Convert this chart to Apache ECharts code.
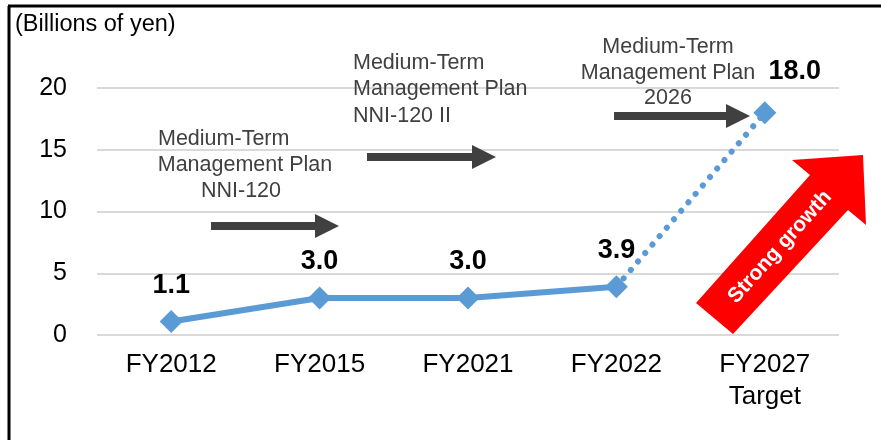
<!DOCTYPE html>
<html>
<head>
<meta charset="utf-8">
<script src="https://cdn.jsdelivr.net/npm/echarts@6/dist/echarts.min.js"></script>
<style>
  html, body { margin: 0; padding: 0; background: #fff; }
  #chart { width: 881px; height: 440px; }
</style>
</head>
<body>
<div id="chart"></div>
<script>
// data
const categories = ['FY2012', 'FY2015', 'FY2021', 'FY2022', 'FY2027\nTarget'];
const actualValues = [1.1, 3.0, 3.0, 3.9, null];
const targetValues = [null, null, null, 3.9, 18.0];
const yTicks = [0, 5, 10, 15, 20];

const blue = '#5b9bd5';
const darkGray = '#404040';
const font = 'Liberation Sans, Arial, sans-serif';

const chart = echarts.init(document.getElementById('chart'), null, {renderer: 'canvas'});

// flat arrow pointing right (annotation shape)
function arrow(x1, x2, y, headLen, shaft, head) {
    const xs = x2 - headLen;
    return {
        type: 'polygon',
        shape: {points: [
            [x1, y - shaft / 2], [xs, y - shaft / 2], [xs, y - head / 2], [x2, y],
            [xs, y + head / 2], [xs, y + shaft / 2], [x1, y + shaft / 2]
        ]},
        style: {fill: darkGray},
        z: 5
    };
}

function note(x, y, text, align) {
    return {
        type: 'text',
        x: x, y: y,
        style: {
            text: text, fill: darkGray, font: '21.5px ' + font,
            align: align || 'center', verticalAlign: 'middle'
        },
        z: 5
    };
}

const actualData = actualValues.map((v, i) => ({
    value: v,
    label: {show: v !== null && i < 4}
}));
const targetData = targetValues.map((v, i) => ({
    value: v,
    symbol: i === 4 ? 'diamond' : 'none',
    label: {show: i === 4, offset: [30, -5]}
}));

const option = {
    animation: false,
    grid: {left: 97, right: 42, top: 88, bottom: 105},
    xAxis: {
        type: 'category',
        data: categories,
        boundaryGap: true,
        axisLine: {show: false},
        axisTick: {show: false},
        axisLabel: {
            color: '#000', fontSize: 26, fontFamily: font,
            lineHeight: 32, margin: 14, interval: 0
        }
    },
    yAxis: {
        type: 'value',
        min: yTicks[0],
        max: yTicks[yTicks.length - 1],
        interval: 5,
        axisLine: {show: false},
        axisTick: {show: false},
        axisLabel: {color: '#000', fontSize: 25, fontFamily: font, margin: 30},
        splitLine: {lineStyle: {color: '#d9d9d9', width: 2}}
    },
    series: [
        {
            type: 'line',
            data: actualData,
            symbol: 'diamond',
            symbolSize: 23,
            itemStyle: {color: blue},
            lineStyle: {color: blue, width: 6},
            label: {
                position: 'top', distance: 11,
                color: '#000', fontSize: 27, fontWeight: 'bold', fontFamily: font,
                formatter: p => p.value.toFixed(1)
            },
            z: 3
        },
        {
            type: 'line',
            data: targetData,
            symbolSize: 23,
            itemStyle: {color: blue},
            lineStyle: {color: blue, width: 6, type: [0.1, 11], cap: 'round'},
            label: {
                position: 'top', distance: 11,
                color: '#000', fontSize: 27, fontWeight: 'bold', fontFamily: font,
                formatter: p => p.value.toFixed(1)
            },
            z: 2
        }
    ],
    graphic: [
        // frame
        {type: 'line', shape: {x1: 9, y1: 440, x2: 9, y2: 6}, style: {stroke: '#000', lineWidth: 3}},
        {type: 'line', shape: {x1: 8, y1: 6, x2: 881, y2: 6}, style: {stroke: '#000', lineWidth: 3}},
        {
            type: 'text', x: 15, y: 25,
            style: {text: '(Billions of yen)', fill: '#000', font: '23.5px ' + font, verticalAlign: 'middle'}
        },
        // plan annotations
        note(158, 139, 'Medium-Term', 'left'),
        note(245, 165, 'Management Plan'),
        note(241, 191, 'NNI-120'),
        arrow(211, 339, 226, 24, 8, 24),
        note(353, 63, 'Medium-Term', 'left'),
        note(353, 89, 'Management Plan', 'left'),
        note(353, 116, 'NNI-120 II', 'left'),
        arrow(367, 496, 157, 24, 8, 24),
        note(668, 47, 'Medium-Term'),
        note(668, 73, 'Management Plan'),
        note(668, 98, '2026'),
        arrow(614, 750, 116, 24, 8, 24),
        // strong growth arrow
        {
            type: 'polygon',
            shape: {points: [[696, 303], [810, 175], [792, 160], [863, 155], [866, 225], [848, 210], [733, 334]]},
            style: {fill: '#ff0000'},
            z: 1
        },
        {
            type: 'text', x: 780, y: 247, rotation: 48 * Math.PI / 180,
            style: {
                text: 'Strong growth', fill: '#fff', font: 'bold 21px ' + font,
                align: 'center', verticalAlign: 'middle'
            },
            z: 2
        }
    ]
};

chart.setOption(option);
</script>
</body>
</html>
